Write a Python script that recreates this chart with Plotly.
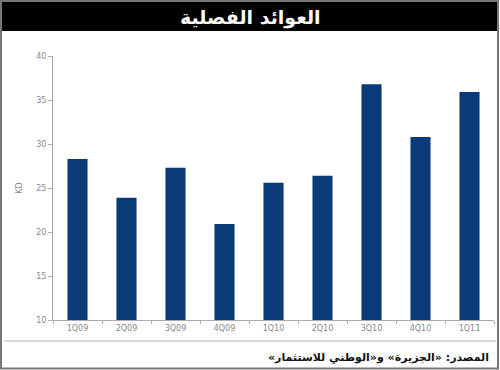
import plotly.graph_objects as go

categories = ["1Q09", "2Q09", "3Q09", "4Q09", "1Q10", "2Q10", "3Q10", "4Q10", "1Q11"]
values = [28.3, 23.9, 27.3, 20.9, 25.6, 26.4, 36.8, 30.8, 35.9]
y_ticks = [10, 15, 20, 25, 30, 35, 40]
title_text = "العوائد الفصلية"
source_text = "المصدر: «الجزيرة» و«الوطني للاستثمار»"
y_label = "KD"

fig = go.Figure(go.Bar(
    x=categories, y=values,
    marker=dict(color="#0b3a78", line=dict(width=0)),
    width=0.41,
))

fig.update_layout(
    width=500, height=370,
    margin=dict(l=53, r=6, t=56, b=50),
    paper_bgcolor="white", plot_bgcolor="white",
    showlegend=False,
    font=dict(family="DejaVu Sans", color="#777"),
)
fig.update_xaxes(
    showline=True, linecolor="#aaa", linewidth=1,
    ticks="outside", ticklen=3, tickcolor="#aaa",
    tickson="boundaries",
    tickfont=dict(size=8, color="#888"),
    showgrid=False,
)
fig.update_yaxes(
    range=[10, 40], tickvals=y_ticks,
    showline=True, linecolor="#aaa", linewidth=1,
    ticks="outside", ticklen=4, tickcolor="#aaa",
    tickfont=dict(size=8, color="#888"),
    showgrid=False, zeroline=False,
    title=dict(text=y_label, font=dict(size=8, color="#888"), standoff=12),
)

pw, ph = 441, 264
def px(x):
    return (x - 53) / pw
def py(y):
    return (320 - y) / ph

shapes = []
shapes.append(dict(type="rect", xref="paper", yref="paper",
                   x0=px(1), x1=px(498), y0=py(368.5), y1=py(1),
                   line=dict(color="#777", width=2), layer="below"))
shapes.append(dict(type="rect", xref="paper", yref="paper",
                   x0=px(2), x1=px(497), y0=py(31), y1=py(2),
                   fillcolor="black", line=dict(width=0), layer="above"))
shapes.append(dict(type="line", xref="paper", yref="paper",
                   x0=px(4), x1=px(496), y0=py(341), y1=py(341),
                   line=dict(color="#ccc", width=1.5)))
fig.update_layout(shapes=shapes)

fig.add_annotation(text="<b>" + title_text + "</b>", xref="paper", yref="paper",
                   x=px(250), y=py(17), xanchor="center", yanchor="middle",
                   showarrow=False, font=dict(size=19, color="white", family="DejaVu Sans"))
fig.add_annotation(text="<b>\u202b" + source_text + "\u202c</b>", xref="paper", yref="paper",
                   x=px(491), y=py(357), xanchor="right", yanchor="middle",
                   showarrow=False, font=dict(size=11, color="#111", family="DejaVu Sans"))

fig.write_html("out.html")
